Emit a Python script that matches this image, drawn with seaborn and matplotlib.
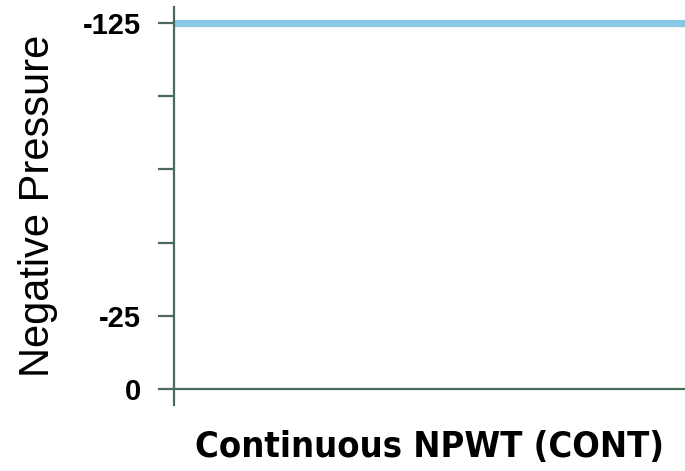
import numpy as np
import pandas as pd
import matplotlib
matplotlib.use("Agg")
import matplotlib.pyplot as plt
import seaborn as sns

# pressure set point held constant over the whole therapy period
time_points = [0, 1]
pressure = [125, 125]
tick_values = [0, 25, 50, 75, 100, 125]
tick_labels = ["0", "-25", "", "", "", "-125"]

df = pd.DataFrame({"time": time_points, "pressure": pressure})

sns.set_style("white")
plt.rcParams["font.family"] = ["Liberation Sans", "DejaVu Sans"]
plt.rcParams["text.color"] = "black"
plt.rcParams["axes.labelcolor"] = "black"
plt.rcParams["ytick.labelcolor"] = "black"

fig = plt.figure(figsize=(6.85, 4.71), dpi=100)
ax = fig.add_axes([0.254, 0.140, 0.746, 0.845])

axis_col = "#4b6a5a"
sns.lineplot(data=df, x="time", y="pressure", ax=ax, color="#89c8e3", linewidth=5.2)
ax.axhline(0, color=axis_col, linewidth=1.6, zorder=3)

ax.set_xlim(0, 1)
ax.set_ylim(-5.5, 130.5)
ax.set_yticks(tick_values)
ax.set_yticklabels(tick_labels, fontsize=21, fontweight="bold")
ax.set_xticks([])

for side in ["top", "right", "bottom"]:
    ax.spines[side].set_visible(False)
ax.spines["left"].set_color(axis_col)
ax.spines["left"].set_linewidth(1.6)
ax.tick_params(axis="y", direction="out", length=11.5, width=1.6, color=axis_col, pad=12, left=True)

ax.set_ylabel("Negative Pressure", fontsize=30, labelpad=18)
ax.set_xlabel("Continuous NPWT (CONT)", fontsize=26, fontweight="bold",
              family="DejaVu Sans", fontstretch="condensed", labelpad=18)

fig.savefig("out.png", dpi=100)
